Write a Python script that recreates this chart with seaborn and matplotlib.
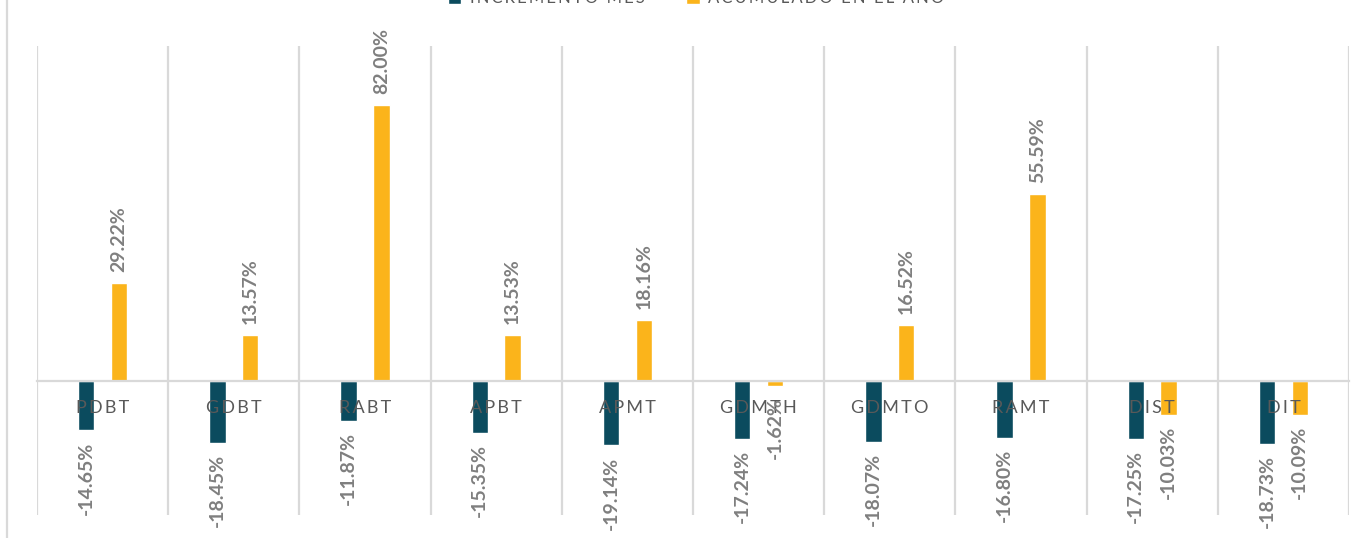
import numpy as np
import pandas as pd
import matplotlib
matplotlib.use("Agg")
import matplotlib.pyplot as plt
from matplotlib.lines import Line2D
import seaborn as sns

# datos del gráfico
categorias = ["PDBT", "GDBT", "RABT", "APBT", "APMT", "GDMTH", "GDMTO", "RAMT", "DIST", "DIT"]
incremento_mes = [-14.65, -18.45, -11.87, -15.35, -19.14, -17.24, -18.07, -16.80, -17.25, -18.73]
acumulado_anio = [29.22, 13.57, 82.00, 13.53, 18.16, -1.62, 16.52, 55.59, -10.03, -10.09]
series = ["INCREMENTO MES", "ACUMULADO EN EL AÑO"]
colores = ["#0B4B5E", "#FBB41B"]

df = pd.DataFrame({
    "categoria": categorias * 2,
    "serie": [series[0]] * len(categorias) + [series[1]] * len(categorias),
    "valor": incremento_mes + acumulado_anio,
})

sns.set_theme(style="white")
plt.rcParams["font.family"] = ["Lato", "DejaVu Sans"]

W, H = 1361, 538
fig = plt.figure(figsize=(W / 100, H / 100), dpi=100)
ax = fig.add_axes([37 / W, 1 - 515 / H, (1349 - 37) / W, (515 - 46) / H])

sns.barplot(data=df, x="categoria", y="valor", hue="serie", order=categorias,
            hue_order=series, palette=colores, width=0.5, gap=0.5,
            errorbar=None, ax=ax, saturation=1)

ax.set_xlim(-0.5, len(categorias) - 0.5)
ax.set_ylim(-39.8, 99.5)

# etiquetas de datos
for cont in ax.containers:
    ax.bar_label(cont, fmt="%.2f%%", rotation=90, padding=8,
                 color="#7F7F7F", fontsize=14, fontweight="bold")

# rejilla vertical entre categorías
ax.set_xticks(np.arange(len(categorias) + 1) - 0.5, minor=True)
ax.grid(which="minor", axis="x", color="#D9D9D9", linewidth=1.6)
ax.grid(which="major", axis="y", visible=False)
ax.set_yticks([])
ax.set_axisbelow(False)  # etiquetas del eje por encima de las barras

for s in ["top", "right", "left"]:
    ax.spines[s].set_visible(False)
ax.spines["bottom"].set_position(("data", 0))
ax.spines["bottom"].set_color("#D9D9D9")
ax.spines["bottom"].set_linewidth(1.6)

ax.set_xticks(range(len(categorias)))
ax.set_xticklabels(["\u2009".join(c) for c in categorias], color="#595959", fontsize=13)
ax.tick_params(axis="x", which="both", length=0, pad=14)
ax.set_xlabel("")
ax.set_ylabel("")

# leyenda (recortada en el borde superior)
handles, labels = ax.get_legend_handles_labels()
ax.legend_.remove()
fig.legend(handles, ["\u2009".join(l) for l in labels], loc="center",
           bbox_to_anchor=(696 / W, 1 + 2 / H), ncol=2, frameon=False,
           fontsize=12, labelcolor="#595959", handlelength=0.8, handleheight=0.8,
           columnspacing=2.5, handletextpad=0.5)

# borde izquierdo del área del gráfico
fig.add_artist(Line2D([7 / W, 7 / W], [0, 1], color="#D9D9D9", linewidth=1.6))

fig.savefig("out.png", dpi=100)
